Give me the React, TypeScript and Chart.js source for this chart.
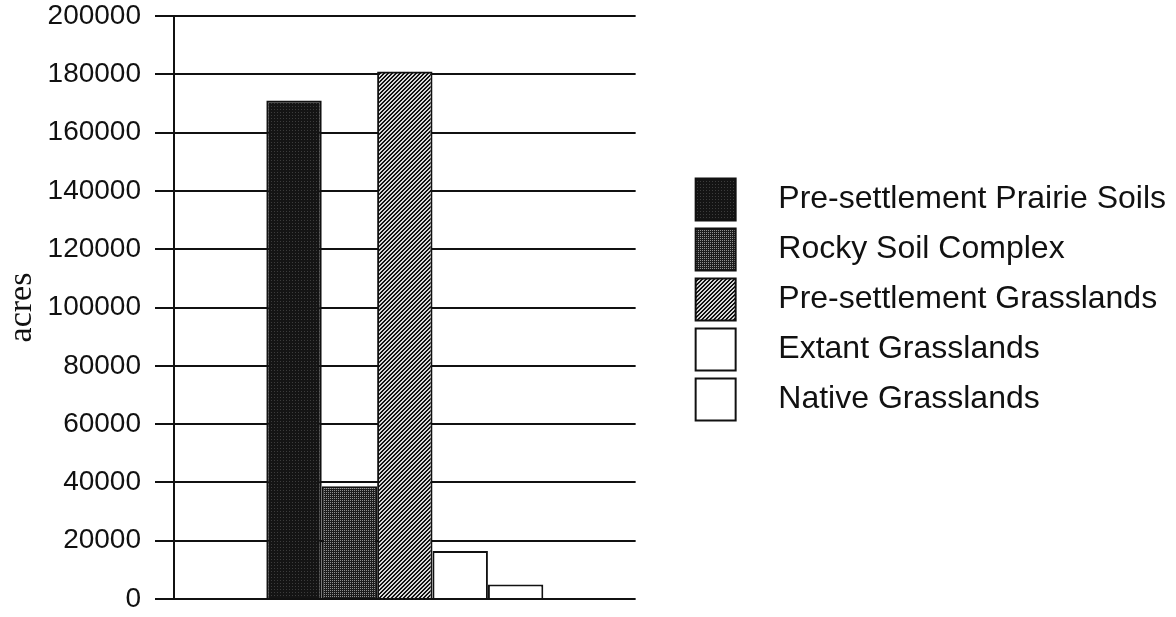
import React, { useEffect, useRef } from 'react';
import { Chart, registerables } from 'chart.js';

Chart.register(...registerables);

const categories = [''];
const seriesNames = [
  'Pre-settlement Prairie Soils',
  'Rocky Soil Complex',
  'Pre-settlement Grasslands',
  'Extant Grasslands',
  'Native Grasslands',
];
const seriesValues = [171000, 38700, 181000, 16500, 5000];
const yTickLabels = ['0', '20000', '40000', '60000', '80000', '100000', '120000', '140000', '160000', '180000', '200000'];
const yAxisTitle = 'acres';

function makePattern(kind: number): CanvasPattern | string {
  const c = document.createElement('canvas');
  const ctx = c.getContext('2d');
  if (!ctx) return '#333';
  if (kind === 0) {
    c.width = 3; c.height = 3;
    ctx.fillStyle = '#141414';
    ctx.fillRect(0, 0, 3, 3);
    ctx.fillStyle = '#3c3c3c';
    ctx.fillRect(1, 1, 1, 1);
  } else if (kind === 1) {
    c.width = 2; c.height = 2;
    ctx.fillStyle = '#1c1c1c';
    ctx.fillRect(0, 0, 2, 2);
    ctx.fillStyle = '#909090';
    ctx.fillRect(0, 0, 1, 1);
  } else if (kind === 2) {
    c.width = 4; c.height = 4;
    for (let x = 0; x < 4; x++) {
      for (let y = 0; y < 4; y++) {
        ctx.fillStyle = ((x + y) % 4 < 2) ? '#111111' : '#d8d8d8';
        ctx.fillRect(x, y, 1, 1);
      }
    }
  } else {
    return '#ffffff';
  }
  const p = ctx.createPattern(c, 'repeat');
  return p || '#333';
}

export default function App() {
  const ref = useRef<HTMLCanvasElement | null>(null);

  useEffect(() => {
    if (!ref.current) return;
    const fills = [makePattern(0), makePattern(1), makePattern(2), makePattern(3), makePattern(4)];
    const sans = "'Liberation Sans', Arial, sans-serif";
    const chart = new Chart(ref.current, {
      type: 'bar',
      data: {
        labels: categories,
        datasets: seriesNames.map((name, i) => ({
          label: name,
          data: [seriesValues[i]],
          backgroundColor: fills[i] as any,
          borderColor: '#111111',
          borderWidth: 2,
          categoryPercentage: 0.6,
          barPercentage: 1.0,
        })),
      },
      options: {
        animation: false,
        responsive: false,
        maintainAspectRatio: false,
        layout: { padding: { top: 0, bottom: 18, left: 0, right: 0 } },
        plugins: {
          tooltip: { enabled: false },
          legend: {
            position: 'right',
            align: 'center',
            maxWidth: 489,
            labels: {
              boxWidth: 40,
              boxHeight: 42,
              padding: 8,
              color: '#111111',
              font: { family: sans, size: 32 },
              generateLabels: (ch: any) => {
                const items = Chart.defaults.plugins.legend.labels.generateLabels(ch);
                return items.map((it: any) => ({ ...it, text: '   ' + it.text }));
              },
            },
          },
        },
        scales: {
          x: {
            display: false,
            grid: { display: false },
          },
          x2: {
            type: 'category',
            position: 'top',
            display: true,
            labels: categories,
            ticks: { display: false },
            grid: { display: false },
            border: { display: false },
            afterFit: (s: any) => { s.height = 16; },
          },
          y: {
            min: 0,
            max: 200000,
            ticks: {
              stepSize: 20000,
              padding: 14,
              color: '#111111',
              font: { family: sans, size: 28, lineHeight: 1 },
              callback: (_v: any, i: number) => yTickLabels[i],
            },
            grid: {
              color: '#111111',
              lineWidth: 2,
              tickLength: 19,
              tickColor: '#111111',
              tickWidth: 2,
            },
            border: { display: true, color: '#111111', width: 2 },
            title: {
              display: true,
              text: yAxisTitle,
              color: '#111111',
              padding: { top: 5, bottom: 0 },
              font: { family: "'Liberation Serif', 'Times New Roman', serif", size: 34, lineHeight: 1 },
            },
            afterFit: (s: any) => { s.width = 174; s.paddingTop = 0; s.paddingBottom = 0; },
          },
          y2: {
            type: 'linear',
            position: 'right',
            display: true,
            ticks: { display: false },
            grid: { display: false },
            border: { display: false },
            afterFit: (s: any) => { s.width = 52; s.paddingTop = 0; s.paddingBottom = 0; },
          },
        },
      } as any,
    });
    return () => chart.destroy();
  }, []);

  return (
    <div style={{ position: 'absolute', left: 0, top: 0, width: 1176, height: 617, background: '#ffffff' }}>
      <canvas ref={ref} width={1176} height={617} style={{ display: 'block' }} />
    </div>
  );
}
